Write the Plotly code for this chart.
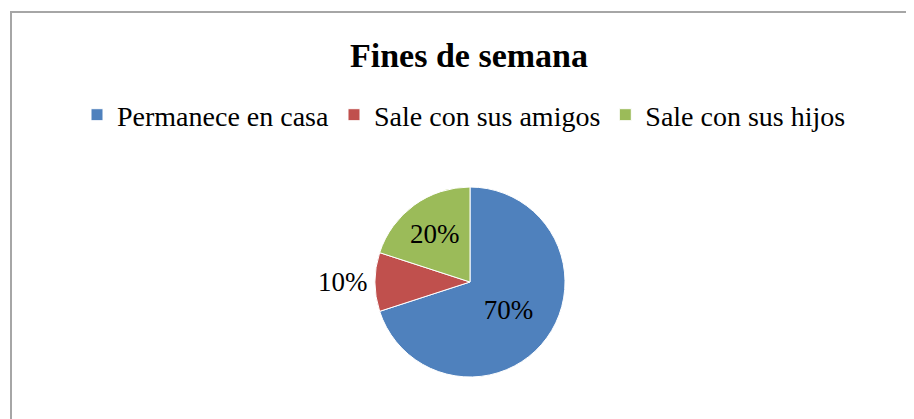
import plotly.graph_objects as go

categories = ["Permanece en casa", "Sale con sus amigos", "Sale con sus hijos"]
values = [70, 10, 20]
colors = ["#4F81BD", "#C0504D", "#9BBB59"]
text_positions = ["inside", "outside", "inside"]

# page body has an 8px margin, so the figure is 8px smaller on each axis
W, H = 906, 411
cx, cy, r = 462, 274, 95
SERIF = "Liberation Serif, Times New Roman, serif"

fig = go.Figure(go.Pie(
    labels=categories,
    values=values,
    sort=False,
    direction="clockwise",
    rotation=0,
    marker=dict(colors=colors, line=dict(color="white", width=1)),
    textinfo="percent",
    texttemplate="%{percent:.0%}",
    textposition=text_positions,
    insidetextorientation="horizontal",
    textfont=dict(family=SERIF, size=27, color="black"),
    outsidetextfont=dict(family=SERIF, size=27, color="black"),
    insidetextfont=dict(family=SERIF, size=27, color="black"),
    showlegend=True,
    automargin=False,
    domain=dict(x=[(cx - r) / W, (cx + r) / W], y=[(H - cy - r) / H, (H - cy + r) / H]),
))

fig.update_layout(
    width=W, height=H,
    margin=dict(l=0, r=0, t=0, b=0),
    paper_bgcolor="white",
    font=dict(family=SERIF, color="black"),
    title=dict(text="<b>Fines de semana</b>", x=461 / W, xanchor="center",
               y=1 - 47 / H, yanchor="middle",
               font=dict(family=SERIF, size=34, color="black")),
    legend=dict(orientation="h", x=456 / W, xanchor="center", y=1 - 107 / H, yanchor="middle",
                font=dict(family=SERIF, size=28, color="black"),
                itemwidth=30, traceorder="normal"),
    shapes=[dict(type="rect", xref="paper", yref="paper",
                 x0=3 / W, x1=1.05, y0=-0.05, y1=1 - 4 / H,
                 line=dict(color="#A6A6A6", width=2), layer="below")],
)

fig.write_html("out.html")
